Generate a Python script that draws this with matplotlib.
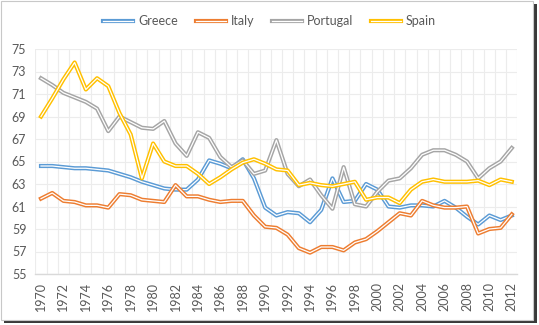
import numpy as np
import matplotlib
matplotlib.use("Agg")
import matplotlib.pyplot as plt
import matplotlib.patheffects as pe
from matplotlib.lines import Line2D
from matplotlib.patches import Rectangle

years = list(range(1970, 2013))

greece = [64.6, 64.6, 64.5, 64.4, 64.4, 64.3, 64.2, 63.9, 63.6, 63.2,
          62.9, 62.6, 62.5, 62.5, 63.4, 65.1, 64.8, 64.4, 65.2, 63.5,
          60.9, 60.2, 60.5, 60.4, 59.6, 60.7, 63.5, 61.4, 61.5, 63.0,
          62.5, 61.0, 60.9, 61.1, 61.1, 61.0, 61.5, 60.9, 60.1, 59.4,
          60.2, 59.8, 60.2]
italy = [61.7, 62.2, 61.5, 61.4, 61.1, 61.1, 60.9, 62.1, 62.0, 61.6,
         61.5, 61.4, 62.9, 61.9, 61.9, 61.6, 61.4, 61.5, 61.5, 60.2,
         59.2, 59.1, 58.5, 57.3, 56.9, 57.4, 57.4, 57.1, 57.8, 58.1,
         58.8, 59.6, 60.4, 60.2, 61.5, 61.1, 60.9, 60.9, 61.0, 58.6,
         59.0, 59.1, 60.3]
portugal = [72.4, 71.8, 71.1, 70.7, 70.3, 69.7, 67.7, 69.0, 68.5, 68.0,
            67.9, 68.6, 66.6, 65.5, 67.6, 67.1, 65.4, 64.5, 65.1, 63.9,
            64.2, 66.9, 63.9, 62.8, 63.4, 62.0, 60.8, 64.5, 61.2, 61.0,
            62.3, 63.3, 63.5, 64.4, 65.6, 66.0, 66.0, 65.6, 65.0, 63.5,
            64.4, 65.0, 66.2]
spain = [69.0, 70.6, 72.3, 73.8, 71.4, 72.4, 71.7, 69.3, 67.4, 63.5,
         66.6, 65.0, 64.6, 64.6, 63.9, 63.0, 63.6, 64.3, 64.9, 65.2,
         64.8, 64.3, 64.2, 62.9, 63.1, 62.9, 62.8, 63.0, 63.2, 61.6,
         61.8, 61.8, 61.3, 62.5, 63.2, 63.4, 63.2, 63.2, 63.2, 63.3,
         62.9, 63.4, 63.2]

series = [("Greece", greece, "#5B9BD5"),
          ("Italy", italy, "#ED7D31"),
          ("Portugal", portugal, "#A5A5A5"),
          ("Spain", spain, "#FFC000")]

plt.rcParams["font.family"] = ["Lato", "DejaVu Sans"]
text_color = "#595959"

W, H = 539, 325
fig = plt.figure(figsize=(W / 100, H / 100), dpi=100)

# chart frame with a drop shadow on the right and bottom
fig.patches.append(Rectangle((4 / W, 2 / H), 533 / W, 319 / H, transform=fig.transFigure,
                             facecolor="#3a3a3a", edgecolor="none", zorder=-3))
fig.patches.append(Rectangle((1 / W, 5 / H), 532 / W, 319 / H, transform=fig.transFigure,
                             facecolor="white", edgecolor="#c8c8c8", lw=0.8, zorder=-2))

ax = fig.add_axes([35.4 / W, 51 / H, 482 / W, 225 / H])
ax.set_facecolor("none")
x = np.arange(len(years))


def double_line(lw_outer, color):
    # coloured outer stroke with a white core on top
    return [pe.Stroke(linewidth=lw_outer, foreground=color), pe.Normal()]


for name, vals, color in series:
    ax.plot(x, vals, color="white", lw=0.9, solid_joinstyle="round",
            path_effects=double_line(3.0, color), zorder=3)

ax.set_xlim(-0.5, len(years) - 0.5)
ax.set_ylim(55, 75)
ax.set_yticks(np.arange(55, 76, 2))
ax.set_xticks(x[::2])
ax.set_xticklabels([str(y) for y in years[::2]], rotation=90)
ax.set_xticks(np.arange(-0.5, len(years), 1), minor=True)

ax.grid(True, axis="y", color="#ececec", lw=0.8, zorder=0)
ax.grid(True, axis="x", which="minor", color="#ececec", lw=0.8, zorder=0)
ax.tick_params(axis="both", which="both", length=0, colors=text_color, labelsize=9)
ax.tick_params(axis="y", pad=6.5)
ax.tick_params(axis="x", pad=6)
for side in ["top", "right", "left"]:
    ax.spines[side].set_visible(False)
ax.spines["bottom"].set_color("#d9d9d9")
ax.spines["bottom"].set_linewidth(1.0)

handles = [Line2D([], [], color="white", lw=0.9,
                  path_effects=double_line(3.0, c)) for _, _, c in series]
fig.legend(handles, [s[0] for s in series], loc="center", ncol=4,
           bbox_to_anchor=(0.5, 1 - 21 / H), frameon=False, fontsize=9,
           handlelength=2.4, handletextpad=0.4, columnspacing=1.4,
           labelcolor=text_color)

fig.savefig("out.png", dpi=100)
